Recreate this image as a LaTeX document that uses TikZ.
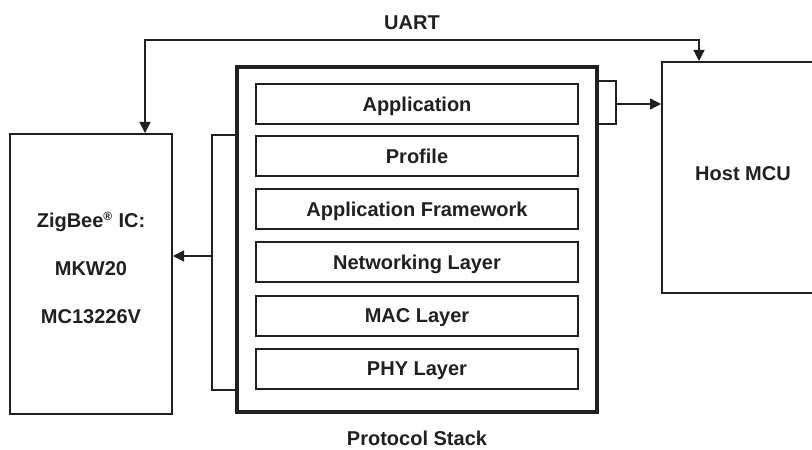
\documentclass[tikz,border=0pt]{standalone}
\usepackage{fontspec}
\setmainfont{Liberation Sans}
\usetikzlibrary{arrows.meta}
\definecolor{ink}{HTML}{231F20}
\tikzset{
  px/.style={x=0.75pt,y=-0.75pt},
  lbl/.style={font=\fontsize{15}{18}\selectfont\bfseries, text=ink, inner sep=0pt},
  chip/.style={draw=ink, line width=1.5pt, minimum width=121.5pt, inner sep=0pt},
  stack/.style={draw=ink, line width=3.4pt, minimum width=270pt, minimum height=258.75pt, inner sep=0pt},
  layerbox/.style={draw=ink, line width=1.7pt, minimum width=241.5pt, minimum height=30pt, inner sep=0pt,
    text depth=0pt, font=\fontsize{15}{18}\selectfont\bfseries, text=ink},
  wire/.style={draw=ink, line width=1pt},
  arr/.style={wire, -{Triangle[length=8.25pt,width=8.25pt]}},
  biarr/.style={wire, {Triangle[length=8.25pt,width=8.25pt]}-{Triangle[length=8.25pt,width=8.25pt]}}
}
\begin{document}
\begin{tikzpicture}[px]
\useasboundingbox (0,0) rectangle (812,449);
\clip (0,0) rectangle (812,449);
\fill[white] (0,0) rectangle (812,449);

% chips
\node[chip, minimum height=210pt] (zig) at (91,274) {};
\node[lbl, align=center, font=\fontsize{15}{36}\selectfont\bfseries] (zigtxt) at (91,268)
  {ZigBee\textsuperscript{\fontsize{9}{9}\selectfont ®} IC:\\MKW20\\MC13226V};
\node[chip, minimum height=173.25pt] (host) at (743,177.5) {};
\node[lbl] (hosttxt) at (743,174) {Host MCU};

% protocol stack
\node[stack] (stk) at (417,239.5) {};
\node[layerbox] (app) at (417,104) {Application};
\node[layerbox] (prof) at (417,156) {Profile};
\node[layerbox] (fw) at (417,209) {Application Framework};
\node[layerbox] (net) at (417,262) {Networking Layer};
\node[layerbox] (mac) at (417,316) {MAC Layer};
\node[layerbox] (phy) at (417,369) {PHY Layer};
\node[lbl, text depth=0pt] (stktxt) at (417,438) {Protocol Stack};

% left bracket to ZigBee IC
\coordinate (lb1) at (212,135);
\coordinate (lb2) at (212,390);
\coordinate (lbm) at (212,256);
\draw[wire] (stk.west |- lb1) -- (lb1) -- (lb2) -- (stk.west |- lb2);
\draw[arr] (lbm) -- (zig.east |- lbm);

% right bracket to Host MCU
\coordinate (rb1) at (616,81);
\coordinate (rb2) at (616,124);
\coordinate (rbm) at (616,104);
\draw[wire] (stk.east |- rb1) -- (rb1) -- (rb2) -- (stk.east |- rb2);
\draw[arr] (rbm) -- (host.west |- rbm);

% UART
\coordinate (ua) at (145,40);
\coordinate (ub) at (699,40);
\draw[biarr] (zig.north -| ua) -- (ua) -- (ub) -- (ub |- host.north);
\node[lbl] (uart) at (412,23) {UART};
\end{tikzpicture}
\end{document}
